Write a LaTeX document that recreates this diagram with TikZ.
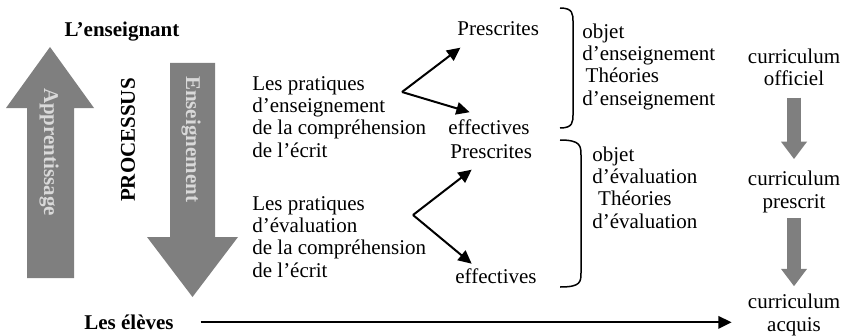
\documentclass[tikz,border=0pt]{standalone}
\usepackage{fontspec}
\setmainfont{Liberation Serif}
\usepackage{tikz}
\usetikzlibrary{arrows.meta,positioning,calc}
\definecolor{flecheGris}{RGB}{127,127,127}
\definecolor{texteGris} {RGB}{217,217,217}

\begin{document}
\begin{tikzpicture}[x=0.6pt,y=-0.6pt,
    texte/.style={font=\fontsize{12.6}{13.4}\selectfont,inner sep=0pt},
    gras/.style={inner sep=0pt,font=\fontsize{12.6}{13.4}\selectfont\bfseries},
    bloc/.style={texte,align=left,anchor=base west},
    curri/.style={texte,align=center,anchor=base},
    fleche/.style={-{Triangle[length=8pt,width=7.5pt]},line width=1.2pt},
    grosse/.style={-{Triangle[length=10.5pt,width=15pt]},line width=8pt,flecheGris},
    accolade/.style={line width=0.9pt}]

    \useasboundingbox (0,0) rectangle (848,335);

    % ─── Acteurs ─────────────────────────────────────────
    \node[gras,anchor=base] (enseignant) at (122,37) {L’enseignant};
    \node[gras,anchor=base] (eleves) at (129,329) {Les élèves};

    % ─── Grandes flèches : apprentissage / enseignement ──
    \fill[flecheGris] (27,278) -- (27,108) -- (6,108) -- (50,47)
      -- (94,108) -- (74,108) -- (74,278) -- cycle;
    \node[gras,texteGris,rotate=-90] (apprent) at (49,152) {Apprentissage};
    \node[gras,rotate=90] (processus) at (128,140) {PROCESSUS};
    \fill[flecheGris] (170,63) -- (215,63) -- (215,237) -- (238,237)
      -- (192.5,297) -- (147,237) -- (170,237) -- cycle;
    \node[gras,texteGris,rotate=-90] (enseign) at (191,139) {Enseignement};

    % ─── Pratiques (base = dernière ligne) ───────────────
    \node[bloc] (prat1) at (252,157)
      {Les pratiques\\d’enseignement\\de la compréhension\\de l’écrit};
    \node[bloc] (prat2) at (252,277)
      {Les pratiques\\d’évaluation\\de la compréhension\\de l’écrit};

    \node[texte,anchor=base west] (presc1) at (457,36) {Prescrites};
    \node[texte,anchor=base west] (effect1) at (448,134) {effectives};
    \node[texte,anchor=base west] (presc2) at (450,158) {Prescrites};
    \node[texte,anchor=base west] (effect2) at (455,283) {effectives};

    \coordinate (v1) at (402,92);
    \coordinate (v2) at (413,215);
    \draw[fleche] (v1) -- ([xshift=2pt,yshift=-7pt]presc1.base west);
    \draw[fleche] (v1) -- ([xshift=13pt,yshift=4pt]effect1.north west);
    \draw[fleche] (v2) -- ([xshift=13pt,yshift=-7pt]presc2.base west);
    \draw[fleche] (v2) -- ([xshift=10pt,yshift=2.5pt]effect2.north west);

    % ─── Accolades + objets ──────────────────────────────
    \draw[accolade] (560,8) .. controls (573,8) and (573,14) .. (573,22)
      -- (573,114) .. controls (573,122) and (573,128) .. (560,128);
    \draw[accolade] (560,140) .. controls (581,140) and (581,146) .. (581,156)
      -- (581,272) .. controls (581,282) and (581,287) .. (560,287);

    \node[bloc] (obj1) at (582,105)
      {objet\\d’enseignement\\\hspace*{2pt}Théories\\d’enseignement};
    \node[bloc] (obj2) at (592,228)
      {objet\\d’évaluation\\\hspace*{3.5pt}Théories\\d’évaluation};

    % ─── Curriculum ──────────────────────────────────────
    \node[curri] (cur1) at (794,86) {curriculum\\officiel};
    \node[curri] (cur2) at (794,208) {curriculum\\prescrit};
    \node[curri] (cur3) at (794,331) {curriculum\\acquis};
    \draw[grosse,shorten <=6.6pt,shorten >=7pt] (cur1) -- (cur2);
    \draw[grosse,shorten <=3.2pt,shorten >=4.5pt] (cur2) -- (cur3);

    % élèves -> curriculum acquis
    \draw[fleche,shorten >=9.6pt]
      ([xshift=16pt,yshift=4pt]eleves.base east)
      -- ([yshift=4pt]eleves.base east -| cur3.west);

\end{tikzpicture}
\end{document}
